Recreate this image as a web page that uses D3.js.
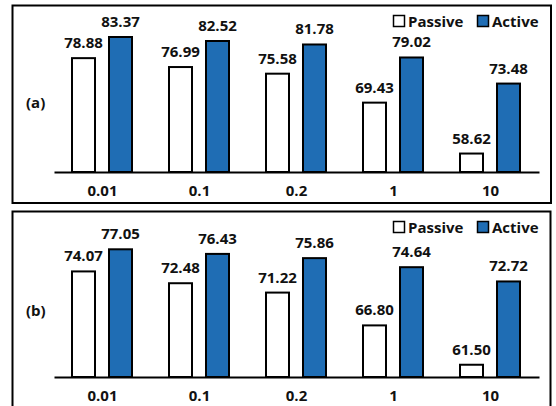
<!DOCTYPE html>
<html><head><meta charset="utf-8">
<script src="https://cdn.jsdelivr.net/npm/d3@7"></script>
<style>body{margin:0;background:#fff}svg text{font-family:"Open Sans",sans-serif;font-weight:bold;fill:#111}</style>
</head><body><svg id="c" width="556" height="406"></svg>
<script>
const categories = ["0.01","0.1","0.2","1","10"];
const series = ["Passive","Active"];
const passiveA = [78.88,76.99,75.58,69.43,58.62];
const activeA  = [83.37,82.52,81.78,79.02,73.48];
const passiveB = [74.07,72.48,71.22,66.80,61.50];
const activeB  = [77.05,76.43,75.86,74.64,72.72];
const panelLabels = ["(a)","(b)"];

const colors = {Passive:"#ffffff", Active:"#1f6db4"};
const svg = d3.select("#c");

const panels = [
  {label:panelLabels[0], p:passiveA, a:activeA, box:[12.5,5.5,538.5,197.5], base:172, domain:[54.7,83.37], top:37},
  {label:panelLabels[1], p:passiveB, a:activeB, box:[12.5,211.5,538,210], base:377, domain:[59.85,77.05], top:249.3}
];

const x0 = d3.scaleBand().domain(categories).range([54,539]);

panels.forEach(pn => {
  const g = svg.append("g");
  g.append("rect").attr("x",pn.box[0]).attr("y",pn.box[1]).attr("width",pn.box[2]).attr("height",pn.box[3])
    .attr("fill","none").attr("stroke","#000").attr("stroke-width",2);
  const y = d3.scaleLinear().domain(pn.domain).range([pn.base,pn.top]);
  const data = categories.map((c,i)=>({c, vals:[{s:"Passive",v:pn.p[i]},{s:"Active",v:pn.a[i]}]}));
  const bw = 23;
  const offs = {Passive:-30.5, Active:6.5};
  const grp = g.selectAll("g.grp").data(data).join("g")
    .attr("transform",d=>`translate(${x0(d.c)+x0.bandwidth()/2},0)`);
  grp.selectAll("rect").data(d=>d.vals).join("rect")
    .attr("x",d=>offs[d.s]).attr("width",bw)
    .attr("y",d=>y(d.v)).attr("height",d=>pn.base-y(d.v))
    .attr("fill",d=>colors[d.s]).attr("stroke","#000").attr("stroke-width",2);
  grp.selectAll("text.v").data(d=>d.vals).join("text").attr("class","v")
    .attr("x",d=>offs[d.s]+bw/2).attr("y",d=>y(d.v)-10)
    .attr("text-anchor","middle").attr("font-size",15).text(d=>d.v.toFixed(2));
  // axis
  const ax = d3.axisBottom(x0).tickSize(0).tickPadding(13);
  const axg = g.append("g").attr("transform",`translate(0,${pn.base})`).call(ax);
  axg.select(".domain").attr("stroke","#000").attr("stroke-width",2);
  axg.selectAll("text").attr("font-size",15).attr("font-family","Open Sans").attr("font-weight","bold").attr("fill","#111");
  // panel label
  g.append("text").attr("x",26).attr("y",(pn.base+pn.top)/2+3).attr("font-size",15).text(pn.label);
  // legend
  const ly = pn.box[1]+20;
  const leg = [{s:"Passive",x:393},{s:"Active",x:477}];
  leg.forEach(l=>{
    g.append("rect").attr("x",l.x+0.5).attr("y",ly-10).attr("width",11).attr("height",11)
      .attr("fill",colors[l.s]).attr("stroke","#000").attr("stroke-width",1.5);
    g.append("text").attr("x",l.x+15).attr("y",ly+1).attr("font-size",15).text(l.s);
  });
});
</script></body></html>
